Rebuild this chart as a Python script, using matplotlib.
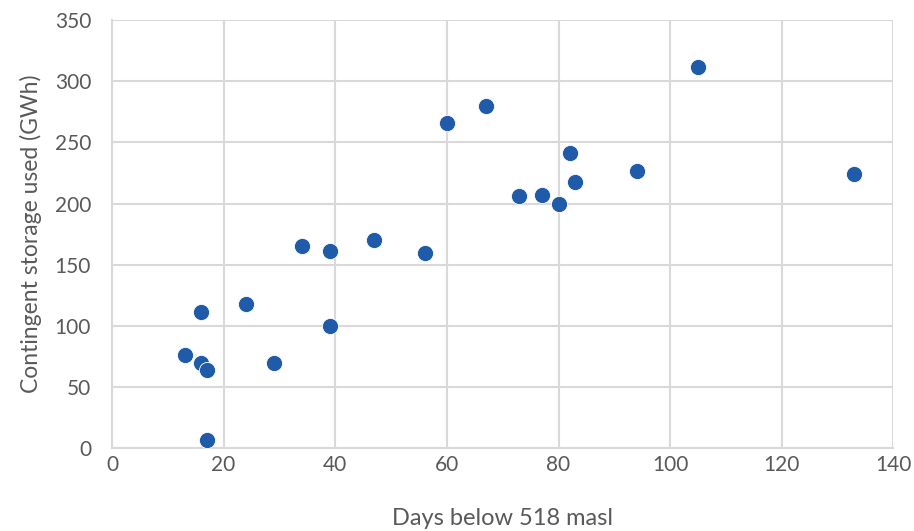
import matplotlib
matplotlib.use("Agg")
import matplotlib.pyplot as plt

# days the reservoir sat below 518 masl vs contingent storage drawn down
days_below = [13, 16, 16, 17, 17, 24, 29, 34, 39, 39, 47, 56, 60, 67,
              73, 77, 80, 82, 83, 94, 105, 133]
storage_gwh = [76, 111, 70, 64, 7, 118, 70, 165, 161, 100, 170, 160, 266, 280,
               206, 207, 200, 241, 218, 227, 312, 224]

x_ticks = [0, 20, 40, 60, 80, 100, 120, 140]
y_ticks = [0, 50, 100, 150, 200, 250, 300, 350]

plt.rcParams['font.family'] = ['Lato', 'DejaVu Sans']
grey = '#595959'
grid_col = '#d9d9d9'

fig = plt.figure(figsize=(9.14, 5.31), dpi=100)
ax = fig.add_axes([0.1225, 0.156, 0.855, 0.806])

ax.scatter(days_below, storage_gwh, s=135, color='#1f5ba8',
           edgecolors='white', linewidths=0.6, zorder=3)

ax.set_xlim(0, 140)
ax.set_ylim(0, 350)
ax.set_xticks(x_ticks)
ax.set_yticks(y_ticks)
ax.grid(True, color=grid_col, linewidth=1.5, zorder=0)
ax.set_axisbelow(True)
for side in ['top', 'right']:
    ax.spines[side].set_visible(False)
for side in ['left', 'bottom']:
    ax.spines[side].set_color(grid_col)
    ax.spines[side].set_linewidth(1.5)
ax.tick_params(length=0, labelsize=15, colors=grey)
ax.tick_params(axis='x', pad=5)
ax.tick_params(axis='y', pad=15)

ax.set_xlabel('Days below 518 masl', fontsize=17, color=grey, labelpad=24)
ax.set_ylabel('Contingent storage used (GWh)', fontsize=16.5, color=grey, labelpad=9)

fig.savefig('out.png', dpi=100)
